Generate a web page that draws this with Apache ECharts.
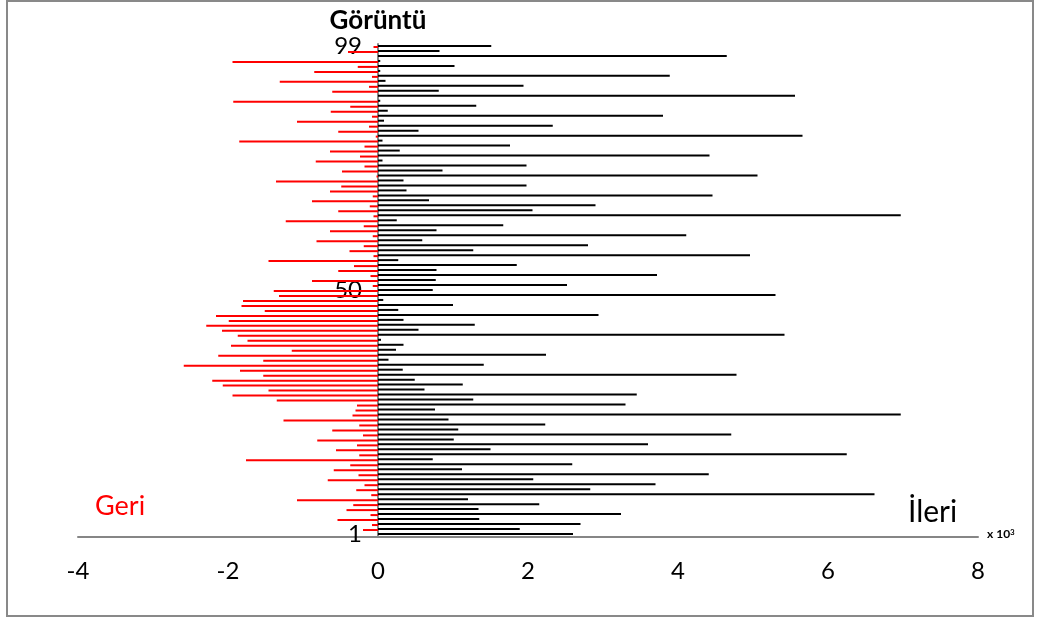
<!DOCTYPE html>
<html>
<head>
<meta charset="utf-8">
<script src="https://cdn.jsdelivr.net/npm/echarts@6/dist/echarts.min.js"></script>
<style>
  html, body { margin: 0; padding: 0; background: #fff; }
  #chart { width: 1041px; height: 619px; }
</style>
</head>
<body>
<div id="chart"></div>
<script>
// Frame numbers 1..99 (bottom to top)
const frames = Array.from({ length: 99 }, (_, i) => String(i + 1));

// Forward (İleri) magnitude per frame, x 10^3
const forward = [
  2.6, 1.89, 2.7, 1.35, 3.24, 1.34, 2.15, 1.2, 6.62, 2.83,
  3.7, 2.07, 4.41, 1.12, 2.59, 0.73, 6.25, 1.5, 3.6, 1.01,
  4.71, 1.07, 2.23, 0.94, 6.97, 0.76, 3.3, 1.27, 3.45, 0.62,
  1.13, 0.49, 4.78, 0.33, 1.41, 0.14, 2.24, 0.24, 0.34, 0.04,
  5.42, 0.54, 1.29, 0.34, 2.94, 0.27, 1.0, 0.07, 5.3, 0.73,
  2.52, 0.77, 3.72, 0.78, 1.85, 0.27, 4.96, 1.27, 2.8, 0.59,
  4.11, 0.78, 1.67, 0.25, 6.97, 2.06, 2.9, 0.68, 4.46, 0.38,
  1.98, 0.34, 5.06, 0.86, 1.98, 0.06, 4.42, 0.29, 1.76, 0.06,
  5.66, 0.54, 2.33, 0.08, 3.8, 0.13, 1.31, 0.03, 5.56, 0.81,
  1.94, 0.1, 3.89, 0.03, 1.02, 0.03, 4.65, 0.82, 1.51
];

// Backward (Geri) magnitude per frame, x 10^3 (negative side)
const backward = [
  0, -0.2, -0.08, -0.54, -0.1, -0.42, -0.33, -1.08, -0.09, -0.29,
  -0.18, -0.67, -0.26, -0.59, -0.37, -1.76, -0.25, -0.56, -0.28, -0.81,
  -0.2, -0.61, -0.25, -1.26, -0.34, -0.3, -0.28, -1.35, -1.94, -1.46,
  -2.07, -2.21, -1.53, -1.84, -2.59, -1.53, -2.13, -1.15, -1.96, -1.74,
  -1.87, -2.08, -2.29, -1.99, -2.16, -1.51, -1.82, -1.8, -1.32, -1.39,
  -0.07, -0.88, -0.1, -0.53, -0.32, -1.46, -0.06, -0.38, -0.19, -0.82,
  -0.07, -0.64, -0.19, -1.23, -0.06, -0.53, -0.11, -0.88, -0.07, -0.64,
  -0.49, -1.36, -0.02, -0.48, -0.18, -0.83, -0.24, -0.64, -0.18, -1.85,
  -0.03, -0.53, -0.12, -1.08, -0.08, -0.63, -0.37, -1.93, 0, -0.61,
  -0.12, -1.31, -0.08, -0.85, -0.27, -1.94, 0, -0.4, -0.06
];

// Frame numbers that carry a label on the vertical axis
const labeledFrames = ['1', '50', '99'];

const FONT = 'Lato, "Open Sans", sans-serif';
const GRID_LEFT = 78;
const GRID_RIGHT = 63;
const X_MIN = -4;
const X_MAX = 8;

const chart = echarts.init(document.getElementById('chart'), null, { renderer: 'canvas' });

// The frame axis sits on x = 0; shift it from the grid's left edge to there.
const plotWidth = 1041 - GRID_LEFT - GRID_RIGHT;
const zeroOffset = plotWidth * (0 - X_MIN) / (X_MAX - X_MIN);

chart.setOption({
  animation: false,
  backgroundColor: '#ffffff',
  grid: { left: GRID_LEFT, right: GRID_RIGHT, top: 44, bottom: 82, containLabel: false },
  xAxis: {
    type: 'value',
    min: X_MIN,
    max: X_MAX,
    interval: 2,
    axisLine: { show: true, lineStyle: { color: '#868686', width: 2 } },
    axisTick: { show: false },
    splitLine: { show: false },
    axisLabel: { color: '#000', fontSize: 24, fontFamily: FONT, margin: 22 }
  },
  yAxis: {
    type: 'category',
    data: frames,
    boundaryGap: true,
    position: 'left',
    offset: -zeroOffset,
    name: 'Görüntü',
    nameLocation: 'end',
    nameGap: 10,
    nameTextStyle: { color: '#000', fontSize: 26, fontWeight: 'bold', fontFamily: FONT },
    axisLine: { show: true, onZero: false, lineStyle: { color: '#868686', width: 2 } },
    axisTick: { show: false },
    splitLine: { show: false },
    axisLabel: {
      interval: (idx, val) => labeledFrames.includes(val),
      color: '#000',
      fontSize: 24,
      fontFamily: FONT,
      margin: 16
    }
  },
  series: [
    {
      name: 'İleri',
      type: 'bar',
      data: forward,
      barWidth: 2,
      barGap: '-50%',
      itemStyle: { color: '#000000' },
      z: 2
    },
    {
      name: 'Geri',
      type: 'bar',
      data: backward,
      barWidth: 2,
      itemStyle: { color: '#ff0000' },
      z: 2
    }
  ],
  graphic: [
    {
      type: 'rect',
      shape: { x: 7, y: 1, width: 1026, height: 615 },
      style: { fill: 'none', stroke: '#898989', lineWidth: 2 },
      silent: true,
      z: -1
    },
    {
      type: 'text',
      left: 95,
      top: 493,
      style: { text: 'Geri', fill: '#ff0000', font: '27px ' + FONT }
    },
    {
      type: 'text',
      left: 908,
      top: 497,
      style: { text: 'İleri', fill: '#000000', font: '30px ' + FONT }
    },
    {
      type: 'text',
      left: 987,
      top: 528,
      style: {
        text: 'x 10{sup|3}',
        fill: '#000',
        font: 'bold 12px ' + FONT,
        rich: { sup: { fontSize: 8, fontWeight: 'bold', fontFamily: FONT, verticalAlign: 'top', padding: [0, 0, 5, 0] } }
      }
    }
  ]
});
</script>
</body>
</html>
